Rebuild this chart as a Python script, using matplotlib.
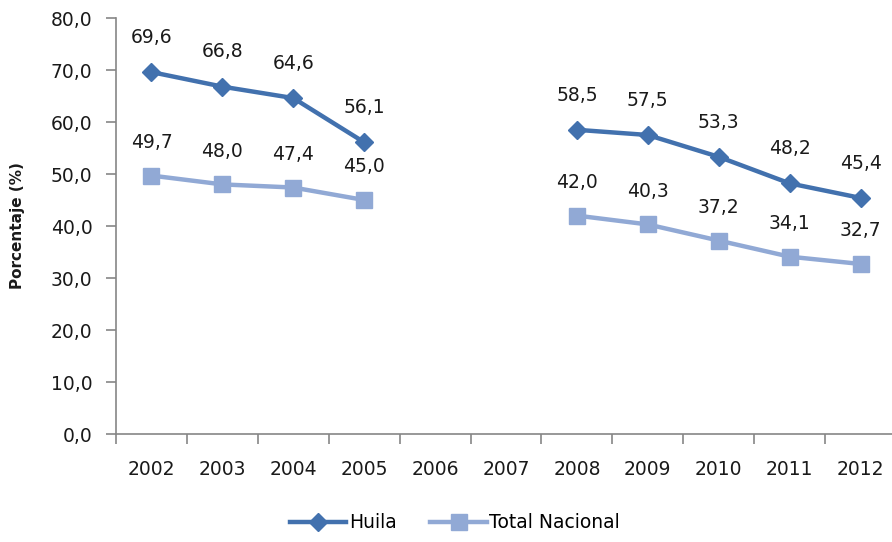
import numpy as np
import matplotlib
matplotlib.use("Agg")
import matplotlib.pyplot as plt
from matplotlib.ticker import FixedLocator, NullFormatter

years = ["2002", "2003", "2004", "2005", "2006", "2007", "2008", "2009", "2010", "2011", "2012"]
huila = [69.6, 66.8, 64.6, 56.1, np.nan, np.nan, 58.5, 57.5, 53.3, 48.2, 45.4]
nacional = [49.7, 48.0, 47.4, 45.0, np.nan, np.nan, 42.0, 40.3, 37.2, 34.1, 32.7]
yticks = [0, 10, 20, 30, 40, 50, 60, 70, 80]

c_h = "#4271AE"
c_n = "#91A9D5"
gray = "#868686"

fig = plt.figure(figsize=(8.92, 5.42), dpi=100)
ax = fig.add_axes([116/892, 1-434/542, 780/892, (434-18)/542])
x = np.arange(len(years))
ax.plot(x, huila, color=c_h, lw=3.2, marker="D", ms=9.5, label="Huila", zorder=3)
ax.plot(x, nacional, color=c_n, lw=3.2, marker="s", ms=11, label="Total Nacional", zorder=3)

fs = 13.5
for xi, v in zip(x, huila):
    if not np.isnan(v):
        ax.annotate(f"{v:.1f}".replace(".", ","), (xi, v), xytext=(0, 25), textcoords="offset points",
                    ha="center", va="center", fontsize=fs, color="#1a1a1a")
for xi, v in zip(x, nacional):
    if not np.isnan(v):
        ax.annotate(f"{v:.1f}".replace(".", ","), (xi, v), xytext=(0, 24), textcoords="offset points",
                    ha="center", va="center", fontsize=fs, color="#1a1a1a")

ax.set_xlim(-0.5, len(years) - 0.5)
ax.set_ylim(0, 80)
ax.set_yticks(yticks)
ax.set_yticklabels([f"{t:.1f}".replace(".", ",") for t in yticks], fontsize=fs, color="#1a1a1a")
ax.set_xticks(x)
ax.set_xticklabels(years, fontsize=fs, color="#1a1a1a")
ax.tick_params(axis="x", which="major", length=0, pad=19)
ax.xaxis.set_minor_locator(FixedLocator(np.arange(-0.5, len(years), 1.0)))
ax.xaxis.set_minor_formatter(NullFormatter())
ax.tick_params(axis="x", which="minor", length=7, color=gray, width=1.2)
ax.tick_params(axis="y", length=7, color=gray, width=1.2, pad=10)
for s in ["top", "right"]:
    ax.spines[s].set_visible(False)
for s in ["left", "bottom"]:
    ax.spines[s].set_color(gray)
    ax.spines[s].set_linewidth(1.2)

fig.text(18/892, 1-226/542, "Porcentaje (%)", rotation=90, ha="center", va="center",
         fontsize=11, fontweight="bold", color="#1a1a1a")

fig.legend(loc="center", bbox_to_anchor=(455/892, 1-523/542), ncol=2, frameon=False,
           fontsize=fs, handlelength=3.0, columnspacing=1.8, handletextpad=0.15)

fig.savefig("out.png", dpi=100)
